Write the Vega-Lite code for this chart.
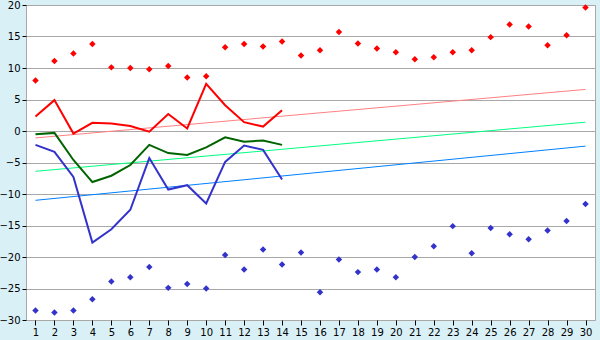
{
  "$schema": "https://vega.github.io/schema/vega-lite/v6.json",
  "width": 569,
  "height": 315,
  "autosize": {"type": "none"},
  "padding": {"left": 26, "top": 5, "right": 5, "bottom": 20},
  "background": "#d9f0f7",
  "config": {
    "view": {"fill": "white", "stroke": "#a8a8a8", "strokeWidth": 1},
    "axis": {
      "labelFont": "DejaVu Sans",
      "labelFontSize": 10,
      "labelColor": "#000000",
      "tickColor": "#000000",
      "domain": false,
      "title": null
    }
  },
  "datasets": {
    "lines": [
      {"day": 1, "series": "hi", "value": 2.3}, {"day": 2, "series": "hi", "value": 4.9}, {"day": 3, "series": "hi", "value": -0.4}, {"day": 4, "series": "hi", "value": 1.3}, {"day": 5, "series": "hi", "value": 1.2}, {"day": 6, "series": "hi", "value": 0.8}, {"day": 7, "series": "hi", "value": -0.1}, {"day": 8, "series": "hi", "value": 2.7}, {"day": 9, "series": "hi", "value": 0.4}, {"day": 10, "series": "hi", "value": 7.5}, {"day": 11, "series": "hi", "value": 4.1}, {"day": 12, "series": "hi", "value": 1.4}, {"day": 13, "series": "hi", "value": 0.7}, {"day": 14, "series": "hi", "value": 3.3},
      {"day": 1, "series": "mid", "value": -0.5}, {"day": 2, "series": "mid", "value": -0.3}, {"day": 3, "series": "mid", "value": -4.6}, {"day": 4, "series": "mid", "value": -8.1}, {"day": 5, "series": "mid", "value": -7.1}, {"day": 6, "series": "mid", "value": -5.4}, {"day": 7, "series": "mid", "value": -2.2}, {"day": 8, "series": "mid", "value": -3.5}, {"day": 9, "series": "mid", "value": -3.8}, {"day": 10, "series": "mid", "value": -2.6}, {"day": 11, "series": "mid", "value": -1.0}, {"day": 12, "series": "mid", "value": -1.7}, {"day": 13, "series": "mid", "value": -1.5}, {"day": 14, "series": "mid", "value": -2.2},
      {"day": 1, "series": "lo", "value": -2.2}, {"day": 2, "series": "lo", "value": -3.3}, {"day": 3, "series": "lo", "value": -7.3}, {"day": 4, "series": "lo", "value": -17.7}, {"day": 5, "series": "lo", "value": -15.6}, {"day": 6, "series": "lo", "value": -12.5}, {"day": 7, "series": "lo", "value": -4.3}, {"day": 8, "series": "lo", "value": -9.3}, {"day": 9, "series": "lo", "value": -8.6}, {"day": 10, "series": "lo", "value": -11.5}, {"day": 11, "series": "lo", "value": -4.9}, {"day": 12, "series": "lo", "value": -2.3}, {"day": 13, "series": "lo", "value": -3.0}, {"day": 14, "series": "lo", "value": -7.7}
    ],
    "trends": [
      {"day": 1, "series": "thi", "value": -1.1}, {"day": 30, "series": "thi", "value": 6.6},
      {"day": 1, "series": "tmid", "value": -6.4}, {"day": 30, "series": "tmid", "value": 1.4},
      {"day": 1, "series": "tlo", "value": -11.0}, {"day": 30, "series": "tlo", "value": -2.4}
    ],
    "points": [
      {"day": 1, "series": "max", "value": 8.0}, {"day": 2, "series": "max", "value": 11.1}, {"day": 3, "series": "max", "value": 12.3}, {"day": 4, "series": "max", "value": 13.8}, {"day": 5, "series": "max", "value": 10.1}, {"day": 6, "series": "max", "value": 10.0}, {"day": 7, "series": "max", "value": 9.8}, {"day": 8, "series": "max", "value": 10.3}, {"day": 9, "series": "max", "value": 8.5}, {"day": 10, "series": "max", "value": 8.7}, {"day": 11, "series": "max", "value": 13.3}, {"day": 12, "series": "max", "value": 13.8}, {"day": 13, "series": "max", "value": 13.4}, {"day": 14, "series": "max", "value": 14.2}, {"day": 15, "series": "max", "value": 12.0}, {"day": 16, "series": "max", "value": 12.8}, {"day": 17, "series": "max", "value": 15.7}, {"day": 18, "series": "max", "value": 13.9}, {"day": 19, "series": "max", "value": 13.1}, {"day": 20, "series": "max", "value": 12.5}, {"day": 21, "series": "max", "value": 11.4}, {"day": 22, "series": "max", "value": 11.7}, {"day": 23, "series": "max", "value": 12.5}, {"day": 24, "series": "max", "value": 12.8}, {"day": 25, "series": "max", "value": 14.9}, {"day": 26, "series": "max", "value": 16.9}, {"day": 27, "series": "max", "value": 16.6}, {"day": 28, "series": "max", "value": 13.6}, {"day": 29, "series": "max", "value": 15.2}, {"day": 30, "series": "max", "value": 19.6},
      {"day": 1, "series": "min", "value": -28.5}, {"day": 2, "series": "min", "value": -28.8}, {"day": 3, "series": "min", "value": -28.5}, {"day": 4, "series": "min", "value": -26.7}, {"day": 5, "series": "min", "value": -23.9}, {"day": 6, "series": "min", "value": -23.2}, {"day": 7, "series": "min", "value": -21.6}, {"day": 8, "series": "min", "value": -24.9}, {"day": 9, "series": "min", "value": -24.3}, {"day": 10, "series": "min", "value": -25.0}, {"day": 11, "series": "min", "value": -19.7}, {"day": 12, "series": "min", "value": -22.0}, {"day": 13, "series": "min", "value": -18.8}, {"day": 14, "series": "min", "value": -21.2}, {"day": 15, "series": "min", "value": -19.3}, {"day": 16, "series": "min", "value": -25.6}, {"day": 17, "series": "min", "value": -20.4}, {"day": 18, "series": "min", "value": -22.4}, {"day": 19, "series": "min", "value": -22.0}, {"day": 20, "series": "min", "value": -23.2}, {"day": 21, "series": "min", "value": -20.0}, {"day": 22, "series": "min", "value": -18.3}, {"day": 23, "series": "min", "value": -15.1}, {"day": 24, "series": "min", "value": -19.4}, {"day": 25, "series": "min", "value": -15.4}, {"day": 26, "series": "min", "value": -16.4}, {"day": 27, "series": "min", "value": -17.2}, {"day": 28, "series": "min", "value": -15.8}, {"day": 29, "series": "min", "value": -14.3}, {"day": 30, "series": "min", "value": -11.6}
    ]
  },
  "encoding": {
    "x": {
      "field": "day", "type": "quantitative",
      "scale": {"domain": [0.5, 30.5], "nice": false, "zero": false},
      "axis": {"values": [1,2,3,4,5,6,7,8,9,10,11,12,13,14,15,16,17,18,19,20,21,22,23,24,25,26,27,28,29,30], "grid": false, "tickSize": 5, "labelPadding": 2, "labelFlush": false, "labelOverlap": false}
    },
    "y": {
      "field": "value", "type": "quantitative",
      "scale": {"domain": [-30, 20], "nice": false, "zero": false},
      "axis": {"values": [-30,-25,-20,-15,-10,-5,0,5,10,15,20], "grid": true, "gridColor": "#a8a8a8", "gridWidth": 1, "tickSize": 4, "labelPadding": 2, "labelFlush": false, "labelOverlap": false}
    },
    "color": {
      "field": "series", "type": "nominal", "legend": null,
      "scale": {
        "domain": ["hi", "mid", "lo", "thi", "tmid", "tlo", "max", "min"],
        "range": ["#ff0000", "#006400", "#3333cc", "#ff8080", "#00ff80", "#0080ff", "#ff0000", "#3333cc"]
      }
    }
  },
  "layer": [
    {"data": {"name": "trends"}, "mark": {"type": "line", "strokeWidth": 1}, "encoding": {"detail": {"field": "series"}}},
    {"data": {"name": "lines"}, "mark": {"type": "line", "strokeWidth": 2}, "encoding": {"detail": {"field": "series"}}},
    {"data": {"name": "points"}, "mark": {"type": "point", "shape": "diamond", "filled": true, "size": 42, "opacity": 1}}
  ]
}
